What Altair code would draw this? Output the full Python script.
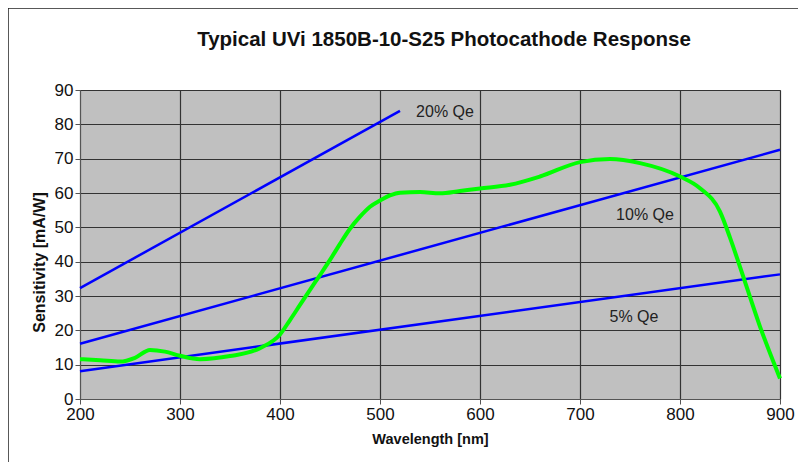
import altair as alt
import pandas as pd

# Green measured response curve
wavelength = [200, 220, 240, 255, 270, 285, 300, 320, 350, 380, 400, 410, 420, 430, 440,
              450, 460, 470, 480, 490, 500, 510, 520, 540, 560, 580, 600, 630, 660, 700,
              730, 760, 800, 820, 840, 850, 860, 880, 900]
sensitivity = [11.6, 11.3, 10.9, 12.0, 14.3, 13.8, 12.6, 11.6, 12.5, 14.8, 18.8, 23.0, 27.4,
               31.8, 36.1, 40.5, 45.2, 49.6, 53.1, 56.0, 57.8, 59.3, 60.1, 60.3, 59.9, 60.6,
               61.3, 62.4, 64.8, 69.0, 69.9, 68.7, 64.8, 61.4, 54.6, 47.0, 38.5, 21.1, 6.0]

# Quantum-efficiency reference lines (end points)
qe_names = ["20% Qe", "20% Qe", "10% Qe", "10% Qe", "5% Qe", "5% Qe"]
qe_wl = [200, 520, 200, 900, 200, 900]
qe_sens = [32.3, 83.9, 16.1, 72.6, 8.1, 36.3]

# Line labels
label_text = ["20% Qe", "10% Qe", "5% Qe"]
label_wl = [565, 765, 754]
label_sens = [83.6, 53.6, 23.9]

x_ticks = [200, 300, 400, 500, 600, 700, 800, 900]
y_ticks = [0, 10, 20, 30, 40, 50, 60, 70, 80, 90]

curve_df = pd.DataFrame({"wl": wavelength, "s": sensitivity})
qe_df = pd.DataFrame({"name": qe_names, "wl": qe_wl, "s": qe_sens})
lab_df = pd.DataFrame({"t": label_text, "wl": label_wl, "s": label_sens})

FONT = "Liberation Sans"
xs = alt.Scale(domain=[200, 900], nice=False)
ys = alt.Scale(domain=[0, 90], nice=False)

x_enc = alt.X("wl:Q", scale=xs, title="Wavelength [nm]",
              axis=alt.Axis(values=x_ticks, grid=True, format="d",
                            labelOverlap=False, labelFlush=False,
                            titleFontSize=14.5))
y_enc = alt.Y("s:Q", scale=ys, title="Sensitivity [mA/W]",
              axis=alt.Axis(values=y_ticks, grid=True, format="d",
                            labelOverlap=False, labelFlush=False,
                            titleFontSize=16, titleY=172))

frame = alt.Chart(pd.DataFrame({"a": [0]})).mark_rect(
    fill=None, stroke="#222", strokeWidth=1.5
).encode(x=alt.value(-72), x2=alt.value(760), y=alt.value(-82), y2=alt.value(500))

qe = alt.Chart(qe_df).mark_line(color="#0000ff", strokeWidth=2.5).encode(
    x=x_enc, y=y_enc, detail="name:N")

curve = alt.Chart(curve_df).mark_line(color="#00ff00", strokeWidth=4,
                                      interpolate="monotone").encode(x=x_enc, y=y_enc)

labels = alt.Chart(lab_df).mark_text(font=FONT, fontSize=16, color="#222",
                                     align="center", baseline="middle").encode(
    x=x_enc, y=y_enc, text="t:N")

chart = alt.layer(qe, curve, labels, frame).properties(
    width=700, height=309,
    autosize=alt.AutoSizeParams(type="none"),
    padding={"left": 72, "top": 82, "right": 18, "bottom": 63},
    title=alt.TitleParams("Typical UVi 1850B-10-S25 Photocathode Response",
                          font=FONT, fontSize=20.5, fontWeight="bold", color="#111",
                          offset=-43, dx=14),
).configure_view(
    fill="#c0c0c0", stroke="#999", strokeWidth=1
).configure_axis(
    labelFont=FONT, labelFontSize=17, labelColor="#111",
    titleFont=FONT, titleFontWeight="bold", titleColor="#111",
    gridColor="#333", gridWidth=1.2, gridOpacity=1,
    domainColor="#555", tickColor="#555", tickSize=5,
).configure_axisX(
    labelPadding=2, titlePadding=10
).configure_axisY(
    labelPadding=2, titlePadding=7
)

chart.save("out.html", embed_options={"renderer": "svg", "actions": False})
